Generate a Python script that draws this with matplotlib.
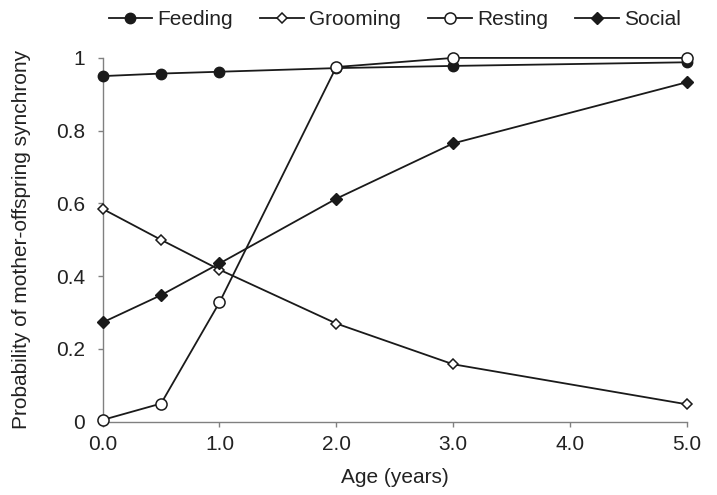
import matplotlib.pyplot as plt

# данные
age = [0.0, 0.5, 1.0, 2.0, 3.0, 5.0]
feeding = [0.950, 0.957, 0.962, 0.972, 0.978, 0.988]
grooming = [0.585, 0.500, 0.418, 0.270, 0.158, 0.048]
resting = [0.005, 0.050, 0.328, 0.975, 1.000, 1.000]
social = [0.273, 0.348, 0.435, 0.613, 0.765, 0.933]

xticks = [0, 1, 2, 3, 4, 5]
yticks = [0, 0.2, 0.4, 0.6, 0.8, 1.0]
ytick_labels = ['0', '0.2', '0.4', '0.6', '0.8', '1']

plt.rcParams['font.family'] = ['Liberation Sans', 'DejaVu Sans']
col = '#1a1a1a'
fs = 15

fig = plt.figure(figsize=(7.17, 4.95), dpi=100)
ax = fig.add_axes([0.1432, 0.148, 0.8145, 0.735])

ax.plot(age, feeding, color=col, lw=1.3, marker='o', ms=7.5, mfc=col, mec=col,
        label='Feeding', clip_on=False, zorder=3)
ax.plot(age, grooming, color=col, lw=1.3, marker='D', ms=5, mfc='white', mec=col,
        mew=1.1, label='Grooming', clip_on=False, zorder=3)
ax.plot(age, resting, color=col, lw=1.3, marker='o', ms=8, mfc='white', mec=col,
        mew=1.1, label='Resting', clip_on=False, zorder=3)
ax.plot(age, social, color=col, lw=1.3, marker='D', ms=6, mfc=col, mec=col,
        label='Social', clip_on=False, zorder=3)

ax.set_xlim(0, 5)
ax.set_ylim(0, 1)
ax.set_xticks(xticks)
ax.set_xticklabels(['%.1f' % v for v in xticks])
ax.set_yticks(yticks)
ax.set_yticklabels(ytick_labels)

for s in ['top', 'right']:
    ax.spines[s].set_visible(False)
for s in ['left', 'bottom']:
    ax.spines[s].set_color('#808080')
    ax.spines[s].set_linewidth(1.0)
ax.tick_params(axis='both', direction='out', length=3.5, width=1.0, color='#808080',
               labelsize=fs, labelcolor='#222222')
ax.tick_params(axis='x', pad=6)
ax.tick_params(axis='y', pad=9)

ax.set_xlabel('Age (years)', fontsize=fs, color='#222222', labelpad=10)
ax.set_ylabel('Probability of mother-offspring synchrony', fontsize=fs,
              color='#222222', labelpad=18)

ax.legend(loc='center', bbox_to_anchor=(0.5, 1.105), ncol=4, frameon=False,
          fontsize=fs, handlelength=2.1, handletextpad=0.25, columnspacing=1.3,
          labelcolor='#222222')

fig.savefig('out.png', dpi=100)
